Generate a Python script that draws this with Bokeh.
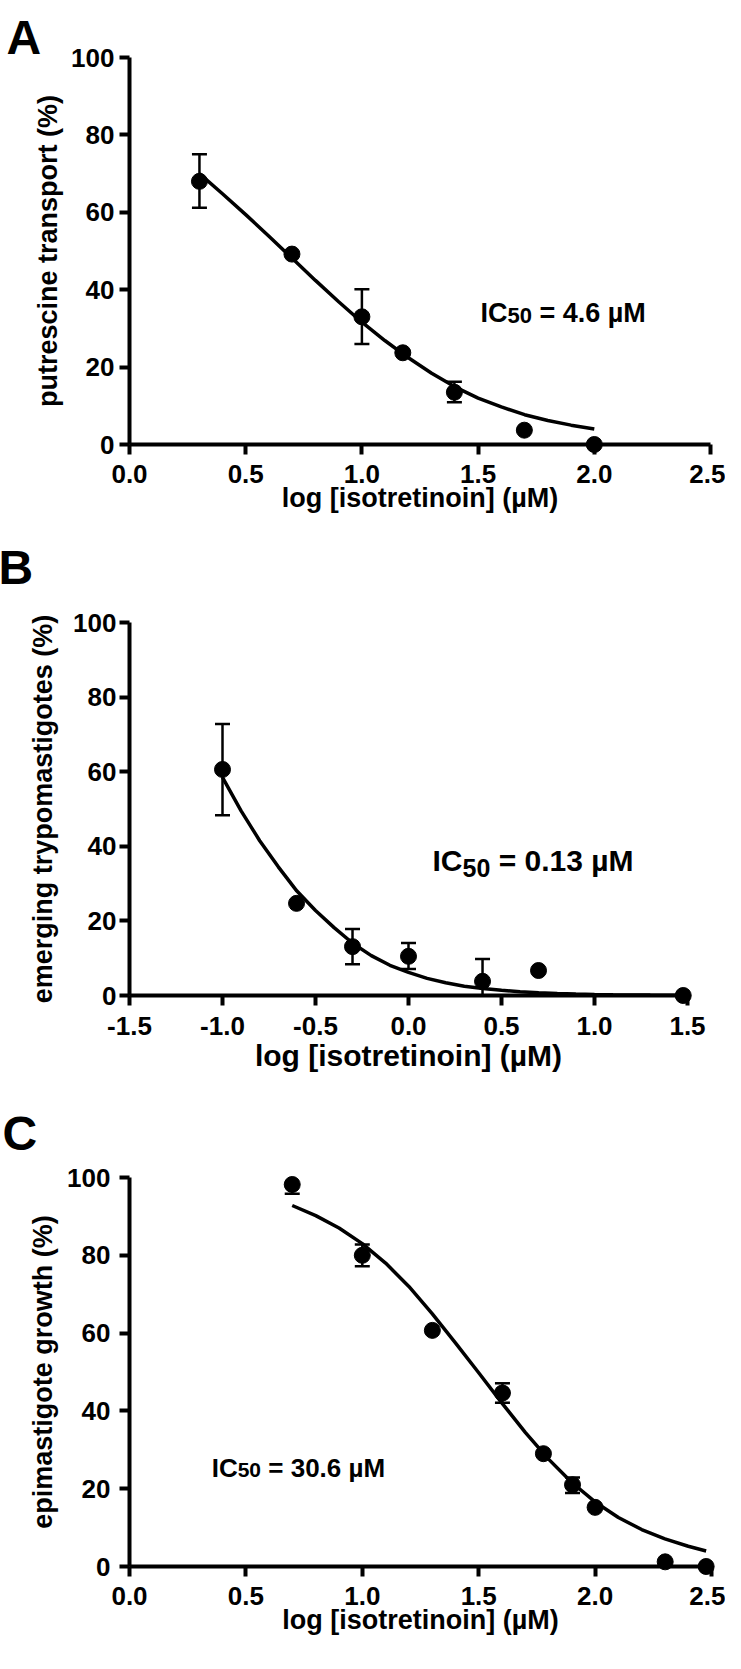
from bokeh.plotting import figure
from bokeh.models import Range1d, FixedTicker, Label, Whisker, TeeHead, ColumnDataSource
from bokeh.layouts import column
from bokeh.embed import file_html
from bokeh.resources import INLINE

FONT = "Liberation Sans"

# ---------------- data ----------------
x_title = "log [isotretinoin] (\u00b5M)"

# Panel A: putrescine transport
a_x = [0.301, 0.699, 1.0, 1.176, 1.398, 1.699, 2.0]
a_y = [68.0, 49.2, 33.0, 23.7, 13.5, 3.7, 0.0]
a_upper = [75.0, None, 40.1, None, 16.2, None, None]
a_lower = [61.2, None, 26.0, None, 10.9, None, None]
a_fit_x = [0.301, 0.4, 0.5, 0.6, 0.7, 0.8, 0.9, 1.0, 1.1, 1.2, 1.3, 1.4, 1.5, 1.6, 1.7, 1.8, 1.9, 2.0]
a_fit_y = [70.0, 64.8, 59.4, 53.8, 48.1, 42.4, 36.9, 31.6, 26.8, 22.4, 18.4, 14.9, 12.0, 9.7, 7.7, 6.2, 5.0, 4.0]
a_xticks = [0.0, 0.5, 1.0, 1.5, 2.0, 2.5]
a_xtick_labels = ["0.0", "0.5", "1.0", "1.5", "2.0", "2.5"]
a_ylabel = "putrescine transport (%)"
a_ic50 = "4.6 \u00b5M"

# Panel B: emerging trypomastigotes
b_x = [-1.0, -0.602, -0.301, 0.0, 0.398, 0.699, 1.477]
b_y = [60.6, 24.7, 13.1, 10.5, 3.8, 6.7, 0.0]
b_upper = [72.8, None, 17.8, 14.1, 9.8, None, None]
b_lower = [48.3, None, 8.4, 7.1, 0.0, None, None]
b_fit_x = [-1.0, -0.9, -0.8, -0.7, -0.6, -0.5, -0.4, -0.3, -0.2, -0.1, 0.0, 0.1, 0.2,
           0.3, 0.4, 0.5, 0.6, 0.7, 0.8, 0.9, 1.0, 1.1, 1.2, 1.3, 1.4, 1.477]
b_fit_y = [58.5, 49.5, 41.5, 34.5, 28.0, 22.8, 18.2, 14.0, 10.7, 8.1, 6.2, 4.6, 3.4,
           2.5, 1.9, 1.4, 1.0, 0.75, 0.55, 0.4, 0.3, 0.22, 0.16, 0.12, 0.09, 0.07]
b_xticks = [-1.5, -1.0, -0.5, 0.0, 0.5, 1.0, 1.5]
b_xtick_labels = ["-1.5", "-1.0", "-0.5", "0.0", "0.5", "1.0", "1.5"]
b_ylabel = "emerging trypomastigotes (%)"
b_ic50 = "0.13 \u00b5M"

# Panel C: epimastigote growth
c_x = [0.699, 1.0, 1.301, 1.602, 1.778, 1.903, 2.0, 2.301, 2.477]
c_y = [98.2, 80.0, 60.7, 44.6, 29.0, 21.0, 15.2, 1.2, 0.0]
c_upper = [None, 82.8, None, 47.1, None, 22.9, None, None, None]
c_lower = [95.8, 77.2, None, 42.1, None, 18.9, None, None, None]
c_fit_x = [0.699, 0.8, 0.9, 1.0, 1.1, 1.2, 1.3, 1.4, 1.5, 1.6, 1.7, 1.8, 1.9, 2.0,
           2.1, 2.2, 2.3, 2.4, 2.477]
c_fit_y = [92.8, 90.2, 87.0, 83.0, 78.0, 72.0, 65.0, 57.5, 49.8, 42.0, 34.5, 27.6, 21.6, 16.6,
           12.6, 9.5, 7.1, 5.2, 4.0]
c_xticks = [0.0, 0.5, 1.0, 1.5, 2.0, 2.5]
c_xtick_labels = ["0.0", "0.5", "1.0", "1.5", "2.0", "2.5"]
c_ylabel = "epimastigote growth (%)"
c_ic50 = "30.6 \u00b5M"

yticks = [0, 20, 40, 60, 80, 100]
ytick_labels = ["0", "20", "40", "60", "80", "100"]


def make_panel(letter, xs, ys, upper, lower, fit_x, fit_y, xticks, xtick_labels, ylabel, ic50,
               frame_w, frame_h, border_left, border_top, border_bottom, border_right,
               xlab_size, ylab_standoff, xlab_standoff, ytick_standoff, xtick_standoff,
               letter_dx, letter_dy, ic_x, ic_y, ic_size, sub_size, sub_dy):
    p = figure(frame_width=frame_w, frame_height=frame_h,
               x_range=Range1d(xticks[0], xticks[-1]), y_range=Range1d(yticks[0], yticks[-1]),
               output_backend="svg", toolbar_location=None,
               min_border_left=border_left, min_border_right=border_right,
               min_border_top=border_top, min_border_bottom=border_bottom,
               background_fill_color="white", border_fill_color="white",
               outline_line_color=None)
    p.grid.visible = False

    xa = p.xaxis[0]
    ya = p.yaxis[0]
    xa.ticker = FixedTicker(ticks=xticks)
    ya.ticker = FixedTicker(ticks=yticks)
    xa.major_label_overrides = {t: l for t, l in zip(xticks, xtick_labels)}
    ya.major_label_overrides = {t: l for t, l in zip(yticks, ytick_labels)}
    xa.axis_label = x_title
    ya.axis_label = ylabel
    for ax in (xa, ya):
        ax.axis_line_width = 4
        ax.axis_line_color = "black"
        ax.major_tick_line_width = 4
        ax.major_tick_line_color = "black"
        ax.major_tick_in = 0
        ax.major_tick_out = 10
        ax.minor_tick_line_color = None
        ax.major_label_text_font = FONT
        ax.major_label_text_font_style = "bold"
        ax.major_label_text_font_size = "26px"
        ax.major_label_text_color = "black"
        ax.axis_label_text_font = FONT
        ax.axis_label_text_font_style = "bold"
        ax.axis_label_text_color = "black"
    xa.axis_label_text_font_size = xlab_size
    ya.axis_label_text_font_size = "27px"
    xa.major_label_standoff = xtick_standoff
    ya.major_label_standoff = ytick_standoff
    xa.axis_label_standoff = xlab_standoff
    ya.axis_label_standoff = ylab_standoff

    # error bars
    base, up, lo = [], [], []
    for x, y, u, l in zip(xs, ys, upper, lower):
        if u is None and l is None:
            continue
        base.append(x)
        up.append(u if u is not None else y)
        lo.append(l if l is not None else y)
    wsrc = ColumnDataSource(dict(base=base, upper=up, lower=lo))
    p.add_layout(Whisker(source=wsrc, base="base", upper="upper", lower="lower",
                         dimension="height", line_width=2.5, line_color="black",
                         level="underlay",
                         upper_head=TeeHead(size=15, line_width=2.5, line_color="black"),
                         lower_head=TeeHead(size=15, line_width=2.5, line_color="black")))

    p.line(fit_x, fit_y, line_width=3.5, line_color="black")
    p.scatter(xs, ys, size=16, marker="circle", fill_color="black", line_color="black",
              level="overlay")

    # panel letter, placed in the top border so it is not clipped to the frame
    p.add_layout(Label(x=xticks[0], y=yticks[-1], x_offset=letter_dx, y_offset=letter_dy,
                       text=letter, text_font=FONT, text_font_style="bold",
                       text_font_size="48px", text_color="black",
                       text_align="left", text_baseline="alphabetic"), "above")

    # IC50 annotation
    w_ic = 1.0 * ic_size
    w_sub = 2 * 0.556 * sub_size
    w_sp = 0.278 * ic_size
    common = dict(text_font=FONT, text_font_style="bold", text_color="black",
                  text_align="left", text_baseline="alphabetic")
    p.add_layout(Label(x=ic_x, y=ic_y, text="IC", text_font_size=f"{ic_size}px", **common))
    p.add_layout(Label(x=ic_x, y=ic_y, x_offset=w_ic, y_offset=sub_dy, text="50",
                       text_font_size=f"{sub_size}px", **common))
    p.add_layout(Label(x=ic_x, y=ic_y, x_offset=w_ic + w_sub + w_sp, text="= " + ic50,
                       text_font_size=f"{ic_size}px", **common))
    return p


pa = make_panel("A", a_x, a_y, a_upper, a_lower, a_fit_x, a_fit_y, a_xticks, a_xtick_labels,
                a_ylabel, a_ic50,
                frame_w=581, frame_h=387, border_left=122, border_top=57, border_bottom=88,
                border_right=22,
                xlab_size="27px", ylab_standoff=5, xlab_standoff=-3, ytick_standoff=5,
                xtick_standoff=10, letter_dx=-123, letter_dy=20,
                ic_x=1.51, ic_y=33.9, ic_size=27, sub_size=22, sub_dy=-2)

pb = make_panel("B", b_x, b_y, b_upper, b_lower, b_fit_x, b_fit_y, b_xticks, b_xtick_labels,
                b_ylabel, b_ic50,
                frame_w=558, frame_h=373, border_left=129, border_top=90, border_bottom=92,
                border_right=38,
                xlab_size="30px", ylab_standoff=12, xlab_standoff=1, ytick_standoff=3,
                xtick_standoff=11, letter_dx=-131, letter_dy=55,
                ic_x=0.129, ic_y=36.1, ic_size=30, sub_size=25, sub_dy=-7)

pc = make_panel("C", c_x, c_y, c_upper, c_lower, c_fit_x, c_fit_y, c_xticks, c_xtick_labels,
                c_ylabel, c_ic50,
                frame_w=582, frame_h=389, border_left=124, border_top=90, border_bottom=87,
                border_right=19,
                xlab_size="27px", ylab_standoff=6, xlab_standoff=-3, ytick_standoff=9,
                xtick_standoff=10, letter_dx=-127, letter_dy=44,
                ic_x=0.353, ic_y=25.2, ic_size=26, sub_size=21, sub_dy=-2)

layout = column(pa, pb, pc, spacing=0)
open("out.html", "w").write(file_html(layout, INLINE))
